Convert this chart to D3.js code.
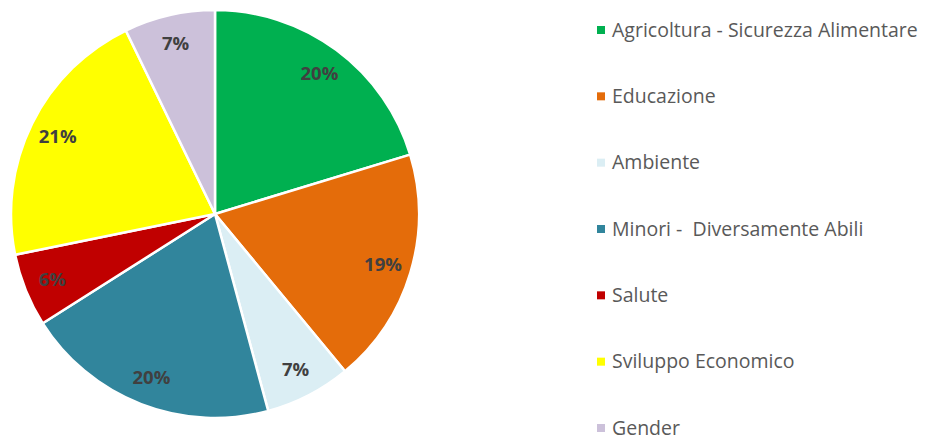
<!DOCTYPE html>
<html>
<head>
<meta charset="utf-8">
<script src="https://cdn.jsdelivr.net/npm/d3@7"></script>
<style>
  body { margin: 0; background: #fff; }
  svg text { font-family: "Open Sans", Lato, sans-serif; }
</style>
</head>
<body>
<svg width="925" height="440"></svg>
<script>
const categories = [
  'Agricoltura - Sicurezza Alimentare',
  'Educazione',
  'Ambiente',
  'Minori -  Diversamente Abili',
  'Salute',
  'Sviluppo Economico',
  'Gender'
]
const shares = [20.3, 18.7, 6.8, 20.2, 5.8, 21.0, 7.2]
const labels = ['20%', '19%', '7%', '20%', '6%', '21%', '7%']
const colors = ['#00B050', '#E46C0A', '#DBEEF4', '#31859C', '#C00000', '#FFFF00', '#CCC1DA']

const svg = d3.select('svg')
const cx = 215, cy = 214, radius = 204

const data = categories.map((name, i) => ({name, value: shares[i], label: labels[i], color: colors[i]}))

const pie = d3.pie().value(d => d.value).sort(null)
const arc = d3.arc().innerRadius(0).outerRadius(radius)
const labelArc = d3.arc().innerRadius(radius * 0.86).outerRadius(radius * 0.86)

const g = svg.append('g').attr('transform', 'translate(' + cx + ',' + cy + ')')

const arcs = pie(data)

g.selectAll('path')
  .data(arcs)
  .enter().append('path')
  .attr('d', arc)
  .attr('fill', d => d.data.color)
  .attr('stroke', '#fff')
  .attr('stroke-width', 2.5)
  .attr('stroke-linejoin', 'round')

g.selectAll('text.pct')
  .data(arcs)
  .enter().append('text')
  .attr('class', 'pct')
  .attr('x', d => labelArc.centroid(d)[0])
  .attr('y', d => labelArc.centroid(d)[1])
  .attr('dy', '0.35em')
  .attr('text-anchor', 'middle')
  .attr('font-size', 18.5)
  .attr('font-weight', 'bold')
  .attr('fill', '#404040')
  .text(d => d.data.label)

// legend
const legendY = d3.scalePoint().domain(categories).range([30, 428])

const legend = svg.append('g').selectAll('g')
  .data(data)
  .enter().append('g')
  .attr('transform', d => 'translate(597,' + legendY(d.name) + ')')

legend.append('rect')
  .attr('x', 0)
  .attr('y', -4)
  .attr('width', 8)
  .attr('height', 8)
  .attr('fill', d => d.color)

legend.append('text')
  .attr('x', 15)
  .attr('y', 0)
  .attr('dy', '0.35em')
  .attr('font-size', 19.5)
  .attr('fill', '#595959')
  .style('white-space', 'pre')
  .text(d => d.name)
</script>
</body>
</html>
